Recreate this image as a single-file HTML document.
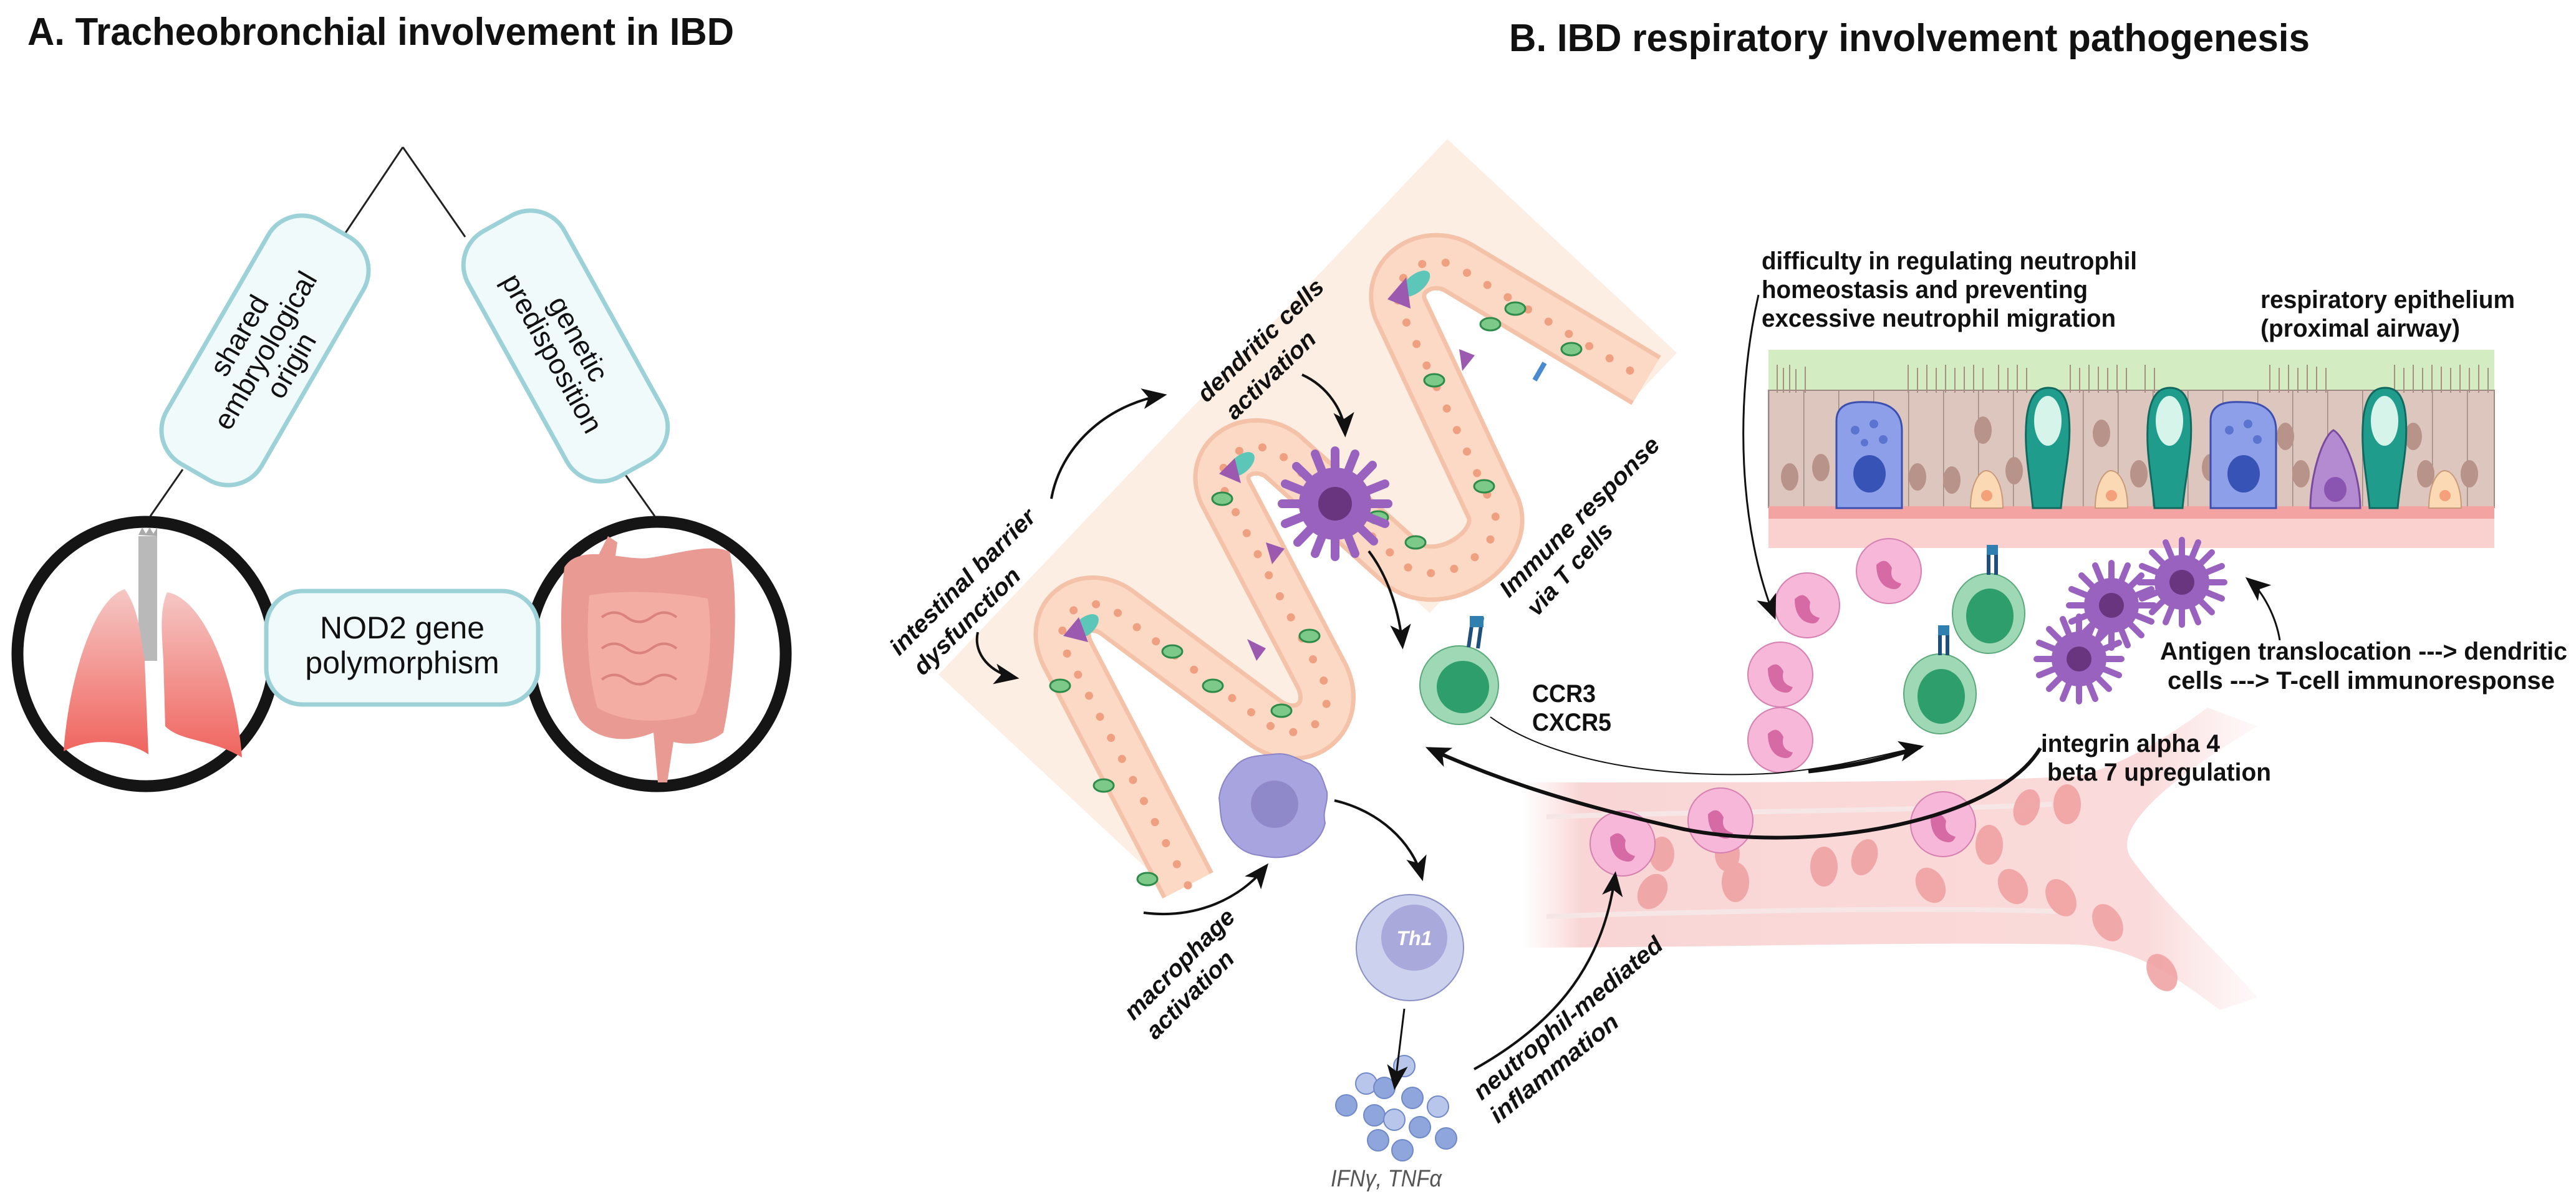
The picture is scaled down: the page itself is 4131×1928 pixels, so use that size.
<!DOCTYPE html>
<html><head><meta charset="utf-8"><style>
html,body{margin:0;padding:0;background:#fff;}
svg{display:block;}
text{font-family:"Liberation Sans Narrow","Liberation Sans",sans-serif;}
.t{font-weight:bold;fill:#111;}
.it{font-weight:bold;font-style:italic;fill:#111;font-family:"Liberation Sans",sans-serif;}
.pill{font-family:"Liberation Sans",sans-serif;fill:#111;}
</style></head><body>
<svg width="4131" height="1928" viewBox="0 0 4131 1928" xmlns="http://www.w3.org/2000/svg">
<defs>
<marker id="a" viewBox="0 0 12 10" refX="10" refY="5" markerWidth="40" markerHeight="34" orient="auto-start-reverse" markerUnits="userSpaceOnUse"><path d="M0,0 L12,5 L0,10 L3,5 Z" fill="#111"/></marker>
<linearGradient id="lung" x1="0" y1="0" x2="0" y2="1"><stop offset="0" stop-color="#f5c7c4"/><stop offset="1" stop-color="#f0645e"/></linearGradient>
<linearGradient id="vess" x1="0" y1="0" x2="1" y2="0"><stop offset="0" stop-color="#fbe0df" stop-opacity="0"/><stop offset="0.08" stop-color="#f9d6d5"/><stop offset="0.85" stop-color="#fadada"/><stop offset="1" stop-color="#fde9e9" stop-opacity="0.3"/></linearGradient>
<pattern id="cols" x="2836" y="0" width="56" height="2000" patternUnits="userSpaceOnUse"><rect width="56" height="2000" fill="#dcc6bd"/><line x1="0.5" y1="0" x2="0.5" y2="2000" stroke="#9c8a83" stroke-width="2"/></pattern>
</defs>

<!-- Panel A -->
<text class="t" x="44" y="72" font-size="62" textLength="1133" lengthAdjust="spacingAndGlyphs">A. Tracheobronchial involvement in IBD</text>
<line x1="551" y1="378" x2="646" y2="236" stroke="#222" stroke-width="3"/>
<line x1="646" y1="236" x2="746" y2="380" stroke="#222" stroke-width="3"/>
<line x1="293" y1="753" x2="241" y2="828" stroke="#222" stroke-width="3"/>
<line x1="999" y1="756" x2="1050" y2="828" stroke="#222" stroke-width="3"/>

<g transform="translate(425,562) rotate(-60)">
<rect x="-225" y="-88" width="450" height="176" rx="62" fill="#f1fafb" stroke="#9dd1d8" stroke-width="7"/>
<text class="pill" font-size="46" text-anchor="middle" x="0" y="-32">shared</text>
<text class="pill" font-size="46" text-anchor="middle" x="0" y="16">embryological</text>
<text class="pill" font-size="46" text-anchor="middle" x="0" y="64">origin</text>
</g>
<g transform="translate(907,555) rotate(61)">
<rect x="-225" y="-88" width="450" height="176" rx="62" fill="#f1fafb" stroke="#9dd1d8" stroke-width="7"/>
<text class="pill" font-size="46" text-anchor="middle" x="0" y="-8">genetic</text>
<text class="pill" font-size="46" text-anchor="middle" x="0" y="40">predisposition</text>
</g>

<!-- left circle lungs -->
<ellipse cx="234" cy="1049" rx="206" ry="212" fill="#fff" stroke="#151515" stroke-width="19"/>
<rect x="222" y="860" width="30" height="200" fill="#b9b9b9"/>
<path d="M222,858 l6,-12 l6,10 l6,-10 l6,10 l6,-10 v14 z" fill="#aaa"/>
<path d="M200,945 C150,960 110,1090 102,1205 C150,1180 210,1190 238,1210 L232,1060 C226,1030 225,980 200,945 Z" fill="url(#lung)"/>
<path d="M268,950 C330,960 380,1100 388,1215 C340,1185 290,1190 265,1165 L262,1060 C260,1020 255,980 268,950 Z" fill="url(#lung)"/>
<!-- right circle intestine -->
<ellipse cx="1054" cy="1049" rx="206" ry="212" fill="#fff" stroke="#151515" stroke-width="19"/>
<path d="M905,910 C930,870 1000,900 1040,895 C1080,890 1140,870 1170,885 C1185,950 1180,1080 1160,1175 C1135,1195 1100,1195 1080,1190 L1070,1255 L1055,1255 L1048,1175 C1000,1195 955,1185 930,1155 C898,1100 895,1000 905,910 Z" fill="#e99a93"/>
<path d="M945,955 C1000,945 1080,950 1135,960 C1145,1030 1135,1110 1115,1145 C1050,1165 990,1155 958,1135 C942,1080 940,1010 945,955 Z" fill="#f3ada3"/>
<path d="M965,990 q20,-15 40,0 q20,15 40,0 q20,-15 40,0 M965,1040 q20,-15 40,0 q20,15 40,0 q20,-15 40,0 M965,1090 q20,-15 40,0 q20,15 40,0 q20,-15 40,0" stroke="#d9837c" stroke-width="4" fill="none"/>
<path d="M960,890 L975,860 L990,870 L985,905 Z" fill="#e99a93"/>

<rect x="427" y="948" width="436" height="182" rx="58" fill="#f1fafb" stroke="#9dd1d8" stroke-width="7"/>
<text class="pill" font-size="50" text-anchor="middle" x="645" y="1024">NOD2 gene</text>
<text class="pill" font-size="50" text-anchor="middle" x="645" y="1080">polymorphism</text>

<!-- Panel B -->
<text class="t" x="2420" y="82" font-size="62" textLength="1284" lengthAdjust="spacingAndGlyphs">B. IBD respiratory involvement pathogenesis</text>

<!-- peach region -->
<polygon points="2321,223 2689,566 1873,1425 1505,1082" fill="#fdeee4"/>
<!-- white lumens -->
<g fill="#fff">
<path d="M1885,1435 L1725,1060 C1712,1020 1760,995 1795,1020 L2075,1200 Z"/>
<path d="M2160,1120 L1990,800 C1975,765 2020,742 2050,765 L2300,990 Z"/>
<path d="M2440,860 L2270,505 C2258,470 2300,450 2335,470 L2640,650 L2620,680 Z"/>
</g>

<!-- intestinal tube -->
<g fill="none" stroke-linecap="butt" stroke-linejoin="round">
<path d="M1905,1420 L1712,1050 C1680,985 1745,945 1795,985 L2030,1160 C2090,1200 2150,1150 2120,1085 L1965,790 C1940,735 2005,695 2055,730 L2250,905 C2310,950 2420,880 2395,815 L2245,495 C2225,440 2290,400 2340,430 L2640,610" stroke="#f3c2a8" stroke-width="92"/>
<path d="M1905,1420 L1712,1050 C1680,985 1745,945 1795,985 L2030,1160 C2090,1200 2150,1150 2120,1085 L1965,790 C1940,735 2005,695 2055,730 L2250,905 C2310,950 2420,880 2395,815 L2245,495 C2225,440 2290,400 2340,430 L2640,610" stroke="#fcd9c5" stroke-width="78"/>
<path d="M1905,1420 L1712,1050 C1680,985 1745,945 1795,985 L2030,1160 C2090,1200 2150,1150 2120,1085 L1965,790 C1940,735 2005,695 2055,730 L2250,905 C2310,950 2420,880 2395,815 L2245,495 C2225,440 2290,400 2340,430 L2640,610" stroke="#eea080" stroke-width="13" stroke-dasharray="0.1 38" stroke-linecap="round"/>
</g>
<g>
<ellipse cx="1740" cy="1005" rx="26" ry="14" fill="#5cc6b8" transform="rotate(-40 1740 1005)"/>
<ellipse cx="1990" cy="745" rx="26" ry="14" fill="#5cc6b8" transform="rotate(-40 1990 745)"/>
<ellipse cx="2270" cy="455" rx="28" ry="14" fill="#5cc6b8" transform="rotate(-40 2270 455)"/>
<polygon points="1705,1020 1730,990 1745,1030" fill="#9b5ab0"/>
<polygon points="1955,760 1980,735 1990,775" fill="#9b5ab0"/>
<polygon points="2225,480 2255,445 2262,495" fill="#9b5ab0"/>
<polygon points="2030,870 2060,880 2040,905" fill="#9b5ab0"/>
<polygon points="2000,1025 2030,1040 2015,1060" fill="#9b5ab0"/>
<polygon points="2340,560 2365,570 2345,595" fill="#9b5ab0"/>
<g fill="#7dc98a" stroke="#2e8b4a" stroke-width="3">
<ellipse cx="1700" cy="1100" rx="16" ry="10"/><ellipse cx="1770" cy="1260" rx="16" ry="10"/><ellipse cx="1840" cy="1410" rx="16" ry="10"/>
<ellipse cx="1880" cy="1045" rx="16" ry="10"/><ellipse cx="1945" cy="1100" rx="16" ry="10"/><ellipse cx="2055" cy="1140" rx="16" ry="10"/>
<ellipse cx="2100" cy="1020" rx="16" ry="10"/><ellipse cx="1960" cy="800" rx="16" ry="10"/><ellipse cx="2210" cy="830" rx="16" ry="10"/>
<ellipse cx="2270" cy="870" rx="16" ry="10"/><ellipse cx="2380" cy="780" rx="16" ry="10"/><ellipse cx="2300" cy="610" rx="16" ry="10"/>
<ellipse cx="2390" cy="520" rx="16" ry="10"/><ellipse cx="2430" cy="495" rx="16" ry="10"/><ellipse cx="2520" cy="560" rx="16" ry="10"/>
</g>
<rect x="2465" y="580" width="8" height="32" fill="#4a8ad0" transform="rotate(30 2469 596)"/>
<rect x="1980" y="1228" width="40" height="10" fill="#4a8ad0" transform="rotate(-30 2000 1233)"/>
</g>

<!-- vessel -->
<path d="M2440,1255 C2800,1255 3150,1255 3330,1245 C3400,1230 3480,1180 3540,1135 L3620,1165 C3480,1250 3380,1330 3420,1380 C3470,1450 3560,1530 3620,1600 L3560,1620 C3480,1560 3420,1520 3330,1515 C3050,1510 2750,1520 2440,1520 Z" fill="url(#vess)"/>
<path d="M2480,1310 C2800,1300 3100,1300 3290,1290 M2480,1470 C2800,1460 3100,1455 3300,1462" stroke="#f7e6e6" stroke-width="8" fill="none"/>
<g fill="#ef9f9f" opacity="0.85">
<ellipse cx="2650" cy="1430" rx="22" ry="30" transform="rotate(30 2650 1430)"/>
<ellipse cx="2783" cy="1415" rx="22" ry="32"/>
<ellipse cx="2925" cy="1390" rx="22" ry="32"/>
<ellipse cx="2990" cy="1375" rx="20" ry="30" transform="rotate(20 2990 1375)"/>
<ellipse cx="3096" cy="1420" rx="22" ry="30" transform="rotate(-30 3096 1420)"/>
<ellipse cx="3228" cy="1422" rx="22" ry="30" transform="rotate(-30 3228 1422)"/>
<ellipse cx="3305" cy="1440" rx="22" ry="32" transform="rotate(-30 3305 1440)"/>
<ellipse cx="3380" cy="1480" rx="22" ry="32" transform="rotate(-30 3380 1480)"/>
<ellipse cx="3467" cy="1560" rx="22" ry="32" transform="rotate(-30 3467 1560)"/>
<ellipse cx="3190" cy="1355" rx="22" ry="32"/>
<ellipse cx="3250" cy="1295" rx="20" ry="30" transform="rotate(20 3250 1295)"/>
<ellipse cx="3315" cy="1290" rx="22" ry="32"/>
<ellipse cx="2665" cy="1370" rx="20" ry="28"/>
<ellipse cx="2770" cy="1370" rx="20" ry="28"/>
</g>

<!-- respiratory epithelium -->
<rect x="2836" y="561" width="1164" height="318" fill="#fbd1cf"/>
<rect x="2836" y="561" width="1164" height="70" fill="#d4ecc1"/>
<rect x="2836" y="626" width="1164" height="188" fill="url(#cols)" stroke="#9c8a83" stroke-width="2"/>
<rect x="2836" y="812" width="1164" height="20" fill="#f4a3a3"/>
<g stroke="#a89080" stroke-width="2" fill="none">
<path d="M2850,630 v-45 M2860,630 v-40 M2870,630 v-45 M2880,630 v-38 M2895,630 v-42 M3060,630 v-45 M3075,630 v-40 M3090,630 v-45 M3105,630 v-40 M3120,630 v-45 M3135,630 v-40 M3150,630 v-42 M3165,630 v-45 M3180,630 v-40 M3205,630 v-45 M3220,630 v-40 M3235,630 v-45 M3250,630 v-40 M3320,630 v-45 M3335,630 v-40 M3350,630 v-45 M3365,630 v-42 M3380,630 v-40 M3395,630 v-45 M3410,630 v-40 M3440,630 v-45 M3455,630 v-40 M3640,630 v-45 M3655,630 v-40 M3670,630 v-45 M3685,630 v-40 M3700,630 v-45 M3715,630 v-42 M3730,630 v-40 M3840,630 v-45 M3855,630 v-40 M3870,630 v-45 M3885,630 v-40 M3900,630 v-45 M3915,630 v-42 M3930,630 v-40 M3945,630 v-45 M3960,630 v-40 M3975,630 v-45 M3990,630 v-40"/>
</g>
<g fill="#b8938a">
<ellipse cx="2870" cy="765" rx="14" ry="22"/><ellipse cx="2920" cy="750" rx="14" ry="22"/><ellipse cx="3075" cy="765" rx="14" ry="22"/>
<ellipse cx="3130" cy="770" rx="14" ry="22"/><ellipse cx="3180" cy="690" rx="14" ry="22"/><ellipse cx="3230" cy="755" rx="14" ry="22"/>
<ellipse cx="3370" cy="695" rx="14" ry="22"/><ellipse cx="3430" cy="760" rx="14" ry="22"/><ellipse cx="3545" cy="750" rx="14" ry="22"/>
<ellipse cx="3665" cy="700" rx="14" ry="22"/><ellipse cx="3690" cy="760" rx="14" ry="22"/><ellipse cx="3870" cy="700" rx="14" ry="22"/>
<ellipse cx="3890" cy="760" rx="14" ry="22"/><ellipse cx="3960" cy="760" rx="14" ry="22"/>
</g>
<g><path d="M2945,815 L2945,675 C2945,640 2985,645 2998,645 C3040,645 3050,670 3050,690 L3050,815 Z" fill="#8d9fe8" stroke="#3a4fb0" stroke-width="3"/><ellipse cx="2998" cy="760" rx="26" ry="30" fill="#3653b5"/><circle cx="2975" cy="690" r="7" fill="#5b74d0"/><circle cx="3005" cy="680" r="7" fill="#5b74d0"/><circle cx="3020" cy="705" r="7" fill="#5b74d0"/><circle cx="2990" cy="710" r="6" fill="#5b74d0"/></g>
<g><path d="M3545,815 L3545,675 C3545,640 3585,645 3598,645 C3640,645 3650,670 3650,690 L3650,815 Z" fill="#8d9fe8" stroke="#3a4fb0" stroke-width="3"/><ellipse cx="3598" cy="760" rx="26" ry="30" fill="#3653b5"/><circle cx="3575" cy="690" r="7" fill="#5b74d0"/><circle cx="3605" cy="680" r="7" fill="#5b74d0"/><circle cx="3620" cy="705" r="7" fill="#5b74d0"/></g>
<g fill="#1f9c8c" stroke="#11695f" stroke-width="3">
<path d="M3260,815 C3255,760 3245,720 3250,670 C3255,630 3270,622 3285,622 C3300,622 3315,630 3318,670 C3322,720 3310,760 3305,815 Z"/>
<path d="M3455,815 C3450,760 3440,720 3445,670 C3450,630 3465,622 3480,622 C3495,622 3510,630 3513,670 C3517,720 3505,760 3500,815 Z"/>
<path d="M3800,815 C3795,760 3785,720 3790,670 C3795,630 3810,622 3825,622 C3840,622 3855,630 3858,670 C3862,720 3850,760 3845,815 Z"/>
</g>
<g fill="#d6f4ea"><ellipse cx="3284" cy="675" rx="22" ry="40"/><ellipse cx="3479" cy="675" rx="22" ry="40"/><ellipse cx="3824" cy="675" rx="22" ry="40"/></g>
<path d="M3705,815 C3705,760 3725,700 3742,690 C3760,700 3785,760 3785,815 Z" fill="#b48ad0" stroke="#7a4aa0" stroke-width="3"/><ellipse cx="3745" cy="785" rx="18" ry="20" fill="#8a55b0"/>
<g fill="#fbd9b5" stroke="#c89a7a" stroke-width="2"><path d="M3160,815 C3160,775 3175,755 3185,755 C3200,755 3212,780 3212,815 Z"/><path d="M3360,815 C3360,775 3375,755 3385,755 C3400,755 3412,780 3412,815 Z"/><path d="M3895,815 C3895,775 3910,755 3920,755 C3935,755 3947,780 3947,815 Z"/></g>
<g fill="#f4a07a"><circle cx="3186" cy="795" r="9"/><circle cx="3386" cy="795" r="9"/><circle cx="3921" cy="795" r="9"/></g>

<!-- dendritic cell (intestine) -->
<g transform="translate(2141,808)">
<g stroke="#9a62bf" stroke-width="14" stroke-linecap="round">
<line x1="0" y1="0" x2="0" y2="-85"/><line x1="0" y1="0" x2="60" y2="-62"/><line x1="0" y1="0" x2="85" y2="0"/><line x1="0" y1="0" x2="62" y2="60"/><line x1="0" y1="0" x2="0" y2="85"/><line x1="0" y1="0" x2="-60" y2="62"/><line x1="0" y1="0" x2="-85" y2="0"/><line x1="0" y1="0" x2="-62" y2="-60"/>
<line x1="0" y1="0" x2="32" y2="-80"/><line x1="0" y1="0" x2="80" y2="-32"/><line x1="0" y1="0" x2="80" y2="32"/><line x1="0" y1="0" x2="32" y2="80"/><line x1="0" y1="0" x2="-32" y2="80"/><line x1="0" y1="0" x2="-80" y2="32"/><line x1="0" y1="0" x2="-80" y2="-32"/><line x1="0" y1="0" x2="-32" y2="-80"/>
</g>
<circle r="58" fill="#9a62bf"/><circle r="27" fill="#6a357f"/>
</g>
<!-- T cell -->
<circle cx="2340" cy="1099" r="63" fill="#9fd8b4" stroke="#5aa97a" stroke-width="2"/>
<circle cx="2346" cy="1102" r="42" fill="#2e9e6c"/>
<path d="M2355,1038 L2362,990 M2370,1040 L2377,990" stroke="#1f4f7a" stroke-width="6"/>
<rect x="2357" y="988" width="22" height="18" fill="#2f7fb0"/>
<!-- macrophage -->
<path d="M2041,1210 C2070,1205 2085,1222 2100,1225 C2120,1235 2122,1255 2128,1270 C2130,1290 2120,1300 2125,1320 C2120,1345 2100,1360 2080,1370 C2060,1375 2045,1378 2020,1372 C1995,1370 1980,1355 1970,1340 C1955,1320 1958,1300 1955,1280 C1958,1255 1970,1240 1985,1225 C2000,1212 2020,1212 2041,1210 Z" fill="#a8a4e0" stroke="#8a84c8" stroke-width="2"/>
<circle cx="2044" cy="1290" r="38" fill="#8f89c9"/>
<!-- Th1 -->
<ellipse cx="2261" cy="1520" rx="86" ry="85" fill="#ccd1ee" stroke="#8a90c6" stroke-width="2"/>
<circle cx="2268" cy="1504" r="53" fill="#a9a9db"/>
<text x="2268" y="1516" font-size="32" font-weight="bold" font-style="italic" fill="#fff" text-anchor="middle" font-family="Liberation Sans,sans-serif">Th1</text>
<g fill="#8fa6dc" stroke="#7088c8" stroke-width="2">
<circle cx="2252" cy="1710" r="17" fill="#b7c6ea"/><circle cx="2191" cy="1738" r="17" fill="#b7c6ea"/><circle cx="2220" cy="1745" r="17"/><circle cx="2265" cy="1761" r="17"/>
<circle cx="2306" cy="1775" r="17" fill="#b7c6ea"/><circle cx="2159" cy="1773" r="17"/><circle cx="2204" cy="1789" r="17"/><circle cx="2236" cy="1796" r="17" fill="#b7c6ea"/>
<circle cx="2277" cy="1808" r="17"/><circle cx="2210" cy="1829" r="17"/><circle cx="2319" cy="1826" r="17"/><circle cx="2249" cy="1845" r="17"/>
</g>
<text x="2134" y="1903" font-size="38" fill="#555" font-style="italic" font-family="Liberation Sans,sans-serif" textLength="178" lengthAdjust="spacingAndGlyphs">IFNγ, TNFα</text>

<!-- neutrophils -->
<g>
<g transform="translate(2898,971)"><circle r="52" fill="#f7b7d8" stroke="#d580b0" stroke-width="2"/><path d="M-20,-10 q15,-15 25,5 q-5,20 15,25 q-5,15 -25,5 q-15,-10 -15,-35z" fill="#d66aa5"/></g>
<g transform="translate(3029,916)"><circle r="52" fill="#f7b7d8" stroke="#d580b0" stroke-width="2"/><path d="M-20,-10 q15,-15 25,5 q-5,20 15,25 q-5,15 -25,5 q-15,-10 -15,-35z" fill="#d66aa5"/></g>
<g transform="translate(2855,1082)"><circle r="52" fill="#f7b7d8" stroke="#d580b0" stroke-width="2"/><path d="M-20,-10 q15,-15 25,5 q-5,20 15,25 q-5,15 -25,5 q-15,-10 -15,-35z" fill="#d66aa5"/></g>
<g transform="translate(2855,1187)"><circle r="52" fill="#f7b7d8" stroke="#d580b0" stroke-width="2"/><path d="M-20,-10 q15,-15 25,5 q-5,20 15,25 q-5,15 -25,5 q-15,-10 -15,-35z" fill="#d66aa5"/></g>
<g transform="translate(2602,1353)"><circle r="52" fill="#f7b7d8" stroke="#d580b0" stroke-width="2"/><path d="M-20,-10 q15,-15 25,5 q-5,20 15,25 q-5,15 -25,5 q-15,-10 -15,-35z" fill="#d66aa5"/></g>
<g transform="translate(2759,1316)"><circle r="52" fill="#f7b7d8" stroke="#d580b0" stroke-width="2"/><path d="M-20,-10 q15,-15 25,5 q-5,20 15,25 q-5,15 -25,5 q-15,-10 -15,-35z" fill="#d66aa5"/></g>
<g transform="translate(3116,1322)"><circle r="52" fill="#f7b7d8" stroke="#d580b0" stroke-width="2"/><path d="M-20,-10 q15,-15 25,5 q-5,20 15,25 q-5,15 -25,5 q-15,-10 -15,-35z" fill="#d66aa5"/></g>
</g>
<g transform="translate(3189,984)"><ellipse rx="58" ry="64" fill="#9fd8b4" stroke="#5aa97a" stroke-width="2"/><ellipse cx="2" cy="4" rx="38" ry="44" fill="#2e9e6c"/><path d="M0,-62 v-40 M12,-62 v-40" stroke="#1f4f7a" stroke-width="6"/><rect x="-3" y="-110" width="18" height="16" fill="#2f7fb0"/></g>
<g transform="translate(3111,1113)"><ellipse rx="58" ry="64" fill="#9fd8b4" stroke="#5aa97a" stroke-width="2"/><ellipse cx="2" cy="4" rx="38" ry="44" fill="#2e9e6c"/><path d="M0,-62 v-40 M12,-62 v-40" stroke="#1f4f7a" stroke-width="6"/><rect x="-3" y="-110" width="18" height="16" fill="#2f7fb0"/></g>
<g stroke="#9a62bf" stroke-width="10" stroke-linecap="round">
<g transform="translate(3499,934)"><line x1="0" y1="-68" x2="0" y2="68"/><line x1="-68" y1="0" x2="68" y2="0"/><line x1="-48" y1="-48" x2="48" y2="48"/><line x1="-48" y1="48" x2="48" y2="-48"/><line x1="-26" y1="-64" x2="26" y2="64"/><line x1="-64" y1="-26" x2="64" y2="26"/><line x1="-64" y1="26" x2="64" y2="-26"/><line x1="-26" y1="64" x2="26" y2="-64"/></g>
<g transform="translate(3386,971)"><line x1="0" y1="-68" x2="0" y2="68"/><line x1="-68" y1="0" x2="68" y2="0"/><line x1="-48" y1="-48" x2="48" y2="48"/><line x1="-48" y1="48" x2="48" y2="-48"/><line x1="-26" y1="-64" x2="26" y2="64"/><line x1="-64" y1="-26" x2="64" y2="26"/><line x1="-64" y1="26" x2="64" y2="-26"/><line x1="-26" y1="64" x2="26" y2="-64"/></g>
<g transform="translate(3334,1057)"><line x1="0" y1="-68" x2="0" y2="68"/><line x1="-68" y1="0" x2="68" y2="0"/><line x1="-48" y1="-48" x2="48" y2="48"/><line x1="-48" y1="48" x2="48" y2="-48"/><line x1="-26" y1="-64" x2="26" y2="64"/><line x1="-64" y1="-26" x2="64" y2="26"/><line x1="-64" y1="26" x2="64" y2="-26"/><line x1="-26" y1="64" x2="26" y2="-64"/></g>
</g>
<g fill="#9a62bf"><circle cx="3499" cy="934" r="44"/><circle cx="3386" cy="971" r="44"/><circle cx="3334" cy="1057" r="44"/></g>
<g fill="#6a357f"><circle cx="3499" cy="934" r="20"/><circle cx="3386" cy="971" r="20"/><circle cx="3334" cy="1057" r="20"/></g>

<!-- arrows -->
<g fill="none" stroke="#111" stroke-width="4">
<path d="M1686,800 C1700,720 1770,650 1865,634" marker-end="url(#a)"/>
<path d="M1568,1014 C1560,1050 1590,1080 1628,1087" marker-end="url(#a)"/>
<path d="M2088,601 C2130,620 2155,660 2157,695" marker-end="url(#a)"/>
<path d="M2195,884 C2230,930 2245,990 2249,1035" marker-end="url(#a)"/>
<path d="M2140,1284 C2210,1300 2265,1350 2280,1407" marker-end="url(#a)"/>
<path d="M2252,1618 L2237,1742" stroke-width="3" marker-end="url(#a)"/>
<path d="M1834,1464 C1920,1475 1990,1440 2030,1390" marker-end="url(#a)"/>
<path d="M2364,1715 C2480,1650 2570,1560 2590,1404" marker-end="url(#a)"/>
<path d="M2820,473 C2780,650 2790,850 2845,988" stroke-width="3" marker-end="url(#a)"/>
<path d="M3656,1027 C3650,990 3630,950 3606,930" stroke-width="3" marker-end="url(#a)"/>
<path d="M3272,1200 C3200,1320 2900,1370 2700,1330 C2520,1290 2400,1250 2292,1201" stroke-width="6" marker-end="url(#a)"/>
<path d="M2390,1150 C2500,1230 2700,1250 2850,1240 C2950,1230 3000,1215 3079,1198" stroke-width="2" marker-end="url(#a)"/>
<path d="M2900,1237 C2980,1228 3030,1215 3079,1198" stroke-width="7"/>
</g>

<!-- labels -->
<text class="t" x="2825" y="432" font-size="40" textLength="602" lengthAdjust="spacingAndGlyphs">difficulty in regulating neutrophil</text>
<text class="t" x="2825" y="478" font-size="40" textLength="523" lengthAdjust="spacingAndGlyphs">homeostasis and preventing</text>
<text class="t" x="2825" y="524" font-size="40" textLength="568" lengthAdjust="spacingAndGlyphs">excessive neutrophil migration</text>
<text class="t" x="3625" y="494" font-size="40" textLength="408" lengthAdjust="spacingAndGlyphs">respiratory epithelium</text>
<text class="t" x="3625" y="540" font-size="40" textLength="320" lengthAdjust="spacingAndGlyphs">(proximal airway)</text>
<text class="t" x="3464" y="1058" font-size="40" textLength="653" lengthAdjust="spacingAndGlyphs">Antigen translocation ---&gt; dendritic</text>
<text class="t" x="3476" y="1105" font-size="40" textLength="621" lengthAdjust="spacingAndGlyphs">cells ---&gt;  T-cell immunoresponse</text>
<text class="t" x="3273" y="1206" font-size="40" textLength="287" lengthAdjust="spacingAndGlyphs">integrin alpha 4</text>
<text class="t" x="3283" y="1252" font-size="40" textLength="359" lengthAdjust="spacingAndGlyphs">beta 7 upregulation</text>
<text class="t" x="2457" y="1126" font-size="40" textLength="102" lengthAdjust="spacingAndGlyphs">CCR3</text>
<text class="t" x="2457" y="1172" font-size="40" textLength="127" lengthAdjust="spacingAndGlyphs">CXCR5</text>

<g transform="translate(1935,647) rotate(-44)"><text class="it" font-size="38" textLength="265" lengthAdjust="spacingAndGlyphs">dendritic cells</text></g>
<g transform="translate(1980,675) rotate(-44)"><text class="it" font-size="38" textLength="185" lengthAdjust="spacingAndGlyphs">activation</text></g>
<g transform="translate(1442,1053) rotate(-45)"><text class="it" font-size="38" textLength="313" lengthAdjust="spacingAndGlyphs">intestinal barrier</text></g>
<g transform="translate(1480,1085) rotate(-45)"><text class="it" font-size="38" textLength="225" lengthAdjust="spacingAndGlyphs">dysfunction</text></g>
<g transform="translate(2420,960) rotate(-45)"><text class="it" font-size="38" textLength="345" lengthAdjust="spacingAndGlyphs">Immune response</text></g>
<g transform="translate(2465,990) rotate(-48)"><text class="it" font-size="38" textLength="185" lengthAdjust="spacingAndGlyphs">via T cells</text></g>
<g transform="translate(1818,1638) rotate(-45)"><text class="it" font-size="38" textLength="233" lengthAdjust="spacingAndGlyphs">macrophage</text></g>
<g transform="translate(1853,1669) rotate(-45)"><text class="it" font-size="38" textLength="182" lengthAdjust="spacingAndGlyphs">activation</text></g>
<g transform="translate(2376,1766) rotate(-40)"><text class="it" font-size="38" textLength="383" lengthAdjust="spacingAndGlyphs">neutrophil-mediated</text></g>
<g transform="translate(2402,1803) rotate(-39)"><text class="it" font-size="38" textLength="253" lengthAdjust="spacingAndGlyphs">inflammation</text></g>
</svg>
</body></html>
